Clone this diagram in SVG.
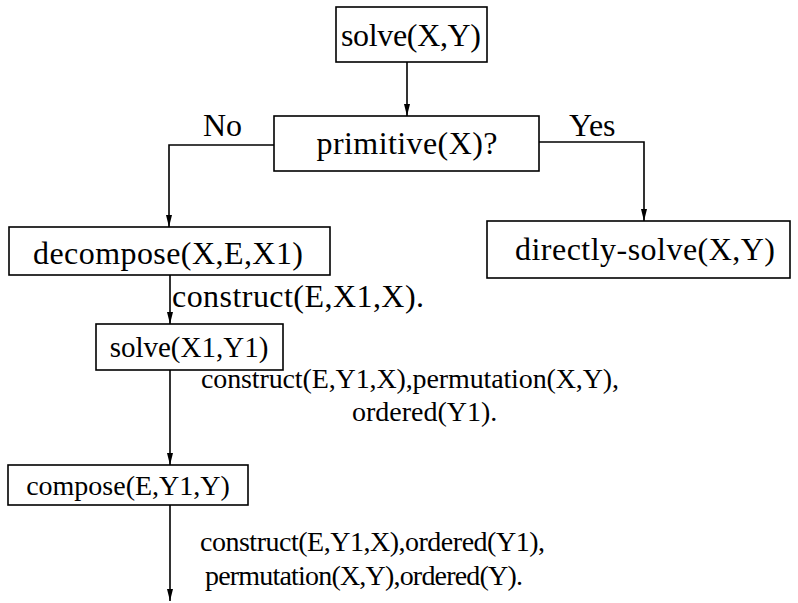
<svg xmlns="http://www.w3.org/2000/svg" width="798" height="603" viewBox="0 0 798 603">
  <style>
    .box { fill: #fff; stroke: #000; stroke-width: 1.6; }
    .lbl { font-family: "Liberation Serif", "Times New Roman", serif; font-size: 32px; fill: #000; }
    .sm { font-size: 28px; }
    .mid { text-anchor: middle; }
    .wire { fill: none; stroke: #000; stroke-width: 1.6; }
  </style>
  <defs>
    <marker id="head" viewBox="0 0 12 8" refX="12" refY="4" markerWidth="12" markerHeight="8" markerUnits="userSpaceOnUse" orient="auto">
      <path d="M0,1 L12,4 L0,7 Z" fill="#000"/>
    </marker>
  </defs>
  <rect width="798" height="603" fill="#fff"/>

  <!-- connectors -->
  <g id="connectors">
    <path class="wire" d="M407,62 V116" marker-end="url(#head)"/>
    <path class="wire" d="M274,145 H169 V227" marker-end="url(#head)"/>
    <path class="wire" d="M539,142 H644 V221" marker-end="url(#head)"/>
    <path class="wire" d="M170,275 V324" marker-end="url(#head)"/>
    <path class="wire" d="M170,370 V465" marker-end="url(#head)"/>
    <path class="wire" d="M170,505 V601" marker-end="url(#head)"/>
  </g>

  <!-- connector labels -->
  <g id="labels">
    <text class="lbl" x="203" y="136">No</text>
    <text class="lbl" x="569" y="136">Yes</text>
    <text class="lbl" x="172" y="307" textLength="252">construct(E,X1,X).</text>
    <text class="lbl sm" x="201" y="388" textLength="418">construct(E,Y1,X),permutation(X,Y),</text>
    <text class="lbl sm" x="352" y="421">ordered(Y1).</text>
    <text class="lbl sm" x="200" y="551" textLength="345">construct(E,Y1,X),ordered(Y1),</text>
    <text class="lbl sm" x="205" y="585" textLength="318">permutation(X,Y),ordered(Y).</text>
  </g>

  <g id="solve">
    <rect class="box" x="336" y="7" width="151" height="55"/>
    <text class="lbl mid" x="411" y="46" textLength="140">solve(X,Y)</text>
  </g>
  <g id="primitive">
    <rect class="box" x="274" y="116" width="265" height="55"/>
    <text class="lbl mid" x="407" y="154" textLength="181">primitive(X)?</text>
  </g>
  <g id="directly-solve">
    <rect class="box" x="487" y="221" width="303" height="57"/>
    <text class="lbl mid" x="645" y="260" textLength="260">directly-solve(X,Y)</text>
  </g>
  <g id="decompose">
    <rect class="box" x="9" y="227" width="321" height="48"/>
    <text class="lbl mid" x="168" y="264" textLength="270">decompose(X,E,X1)</text>
  </g>
  <g id="solve-sub">
    <rect class="box" x="96" y="324" width="187" height="46"/>
    <text class="lbl mid" x="189" y="357" style="font-size:29px">solve(X1,Y1)</text>
  </g>
  <g id="compose">
    <rect class="box" x="8" y="465" width="240" height="40"/>
    <text class="lbl mid" x="128" y="495" style="font-size:28px">compose(E,Y1,Y)</text>
  </g>
</svg>
